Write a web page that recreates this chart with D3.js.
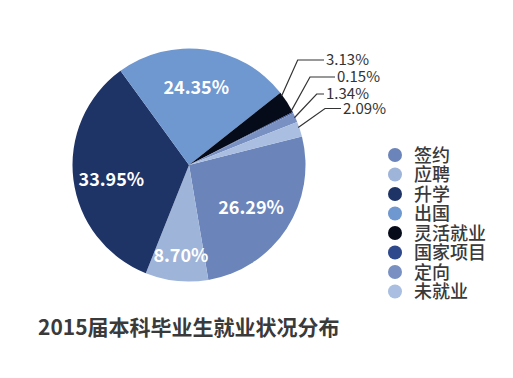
<!DOCTYPE html>
<html><head><meta charset="utf-8">
<script src="https://cdn.jsdelivr.net/npm/d3@7"></script>
<style>html,body{margin:0;padding:0;background:#fff;}svg{display:block;}</style>
</head><body>
<svg id="c" width="513" height="378"></svg>
<script>
const categories = ['签约','应聘','升学','出国','灵活就业','国家项目','定向','未就业'];
const values = [26.29, 8.70, 33.95, 24.35, 3.13, 0.15, 1.34, 2.09];
const colors = ['#6b84b9','#9eb4d9','#1e3366','#6f97d0','#060b19','#2f4a8c','#7990c3','#a9bee1'];
const title = '2015届本科毕业生就业状况分布';

const svg = d3.select('#c');
const cx = 189, cy = 165, R = 116.5;
const startDeg = 75.8;
const fmt = v => d3.format('.2f')(v) + '%';

const pie = d3.pie().sort(null).value(d => d.v)
  .startAngle(startDeg * Math.PI / 180).endAngle((startDeg + 360) * Math.PI / 180);
const data = categories.map((c, i) => ({c, v: values[i], col: colors[i], i}));
const arcs = pie(data);
const arc = d3.arc().innerRadius(0).outerRadius(R);

const g = svg.append('g').attr('transform', `translate(${cx},${cy})`);
g.selectAll('path').data(arcs).join('path')
  .attr('d', arc).attr('fill', d => d.data.col);

// inner labels for big slices
const bigLabel = [
  {i:0, r:75, da:1},
  {i:1, r:91, da:-1},
  {i:2, r:79, da:-3.5},
  {i:3, r:78, da:-2.5}
];
bigLabel.forEach(b => {
  const a = arcs[b.i];
  const mid = (a.startAngle + a.endAngle) / 2 + b.da * Math.PI / 180;
  const x = Math.sin(mid) * b.r, y = -Math.cos(mid) * b.r;
  g.append('text').attr('x', x).attr('y', y).attr('dy', '0.36em')
    .attr('text-anchor', 'middle')
    .attr('font-family', '"Noto Sans CJK SC", "Noto Sans", sans-serif')
    .attr('font-weight', 'bold').attr('font-size', 18).attr('fill', '#fff')
    .text(fmt(values[b.i]));
});

// leader labels for small slices
const small = [
  {i:4, ly:60, ex:297.7, tx:326, ra:-4},
  {i:5, ly:77, ex:310, tx:337, ra:-1},
  {i:6, ly:94, ex:316.7, tx:326, ra:0},
  {i:7, ly:108.5, ex:325, tx:343, ra:-1}
];
small.forEach(s => {
  const a = arcs[s.i];
  const mid = (a.startAngle + a.endAngle) / 2 + s.ra * Math.PI / 180;
  const r0 = R - 1;
  const px = cx + Math.sin(mid) * r0, py = cy - Math.cos(mid) * r0;
  svg.append('polyline')
    .attr('points', `${px},${py} ${s.ex},${s.ly} ${s.tx - 2},${s.ly}`)
    .attr('fill', 'none').attr('stroke', '#333').attr('stroke-width', 1.2);
  svg.append('text').attr('x', s.tx).attr('y', s.ly).attr('dy', '0.36em')
    .attr('font-family', '"Noto Sans CJK SC", "Noto Sans", sans-serif')
    .attr('font-size', 15).attr('fill', '#333')
    .text(fmt(values[s.i]));
});

// legend
const leg = svg.append('g');
const ly0 = 155, lstep = 19.5;
data.forEach((d, k) => {
  const y = ly0 + k * lstep;
  leg.append('circle').attr('cx', 395).attr('cy', y).attr('r', 7).attr('fill', d.col);
  leg.append('text').attr('x', 414).attr('y', y).attr('dy', '0.38em')
    .attr('font-family', '"Noto Sans CJK SC", sans-serif')
    .attr('font-size', 18).attr('font-weight', 500).attr('fill', '#3a3a3a')
    .text(d.c);
});

// title
svg.append('text').attr('x', 38).attr('y', 335)
  .attr('font-family', '"Noto Sans CJK SC", sans-serif')
  .attr('font-size', 21).attr('font-weight', 'bold').attr('fill', '#3a3a3a')
  .text(title);
</script>
</body></html>
